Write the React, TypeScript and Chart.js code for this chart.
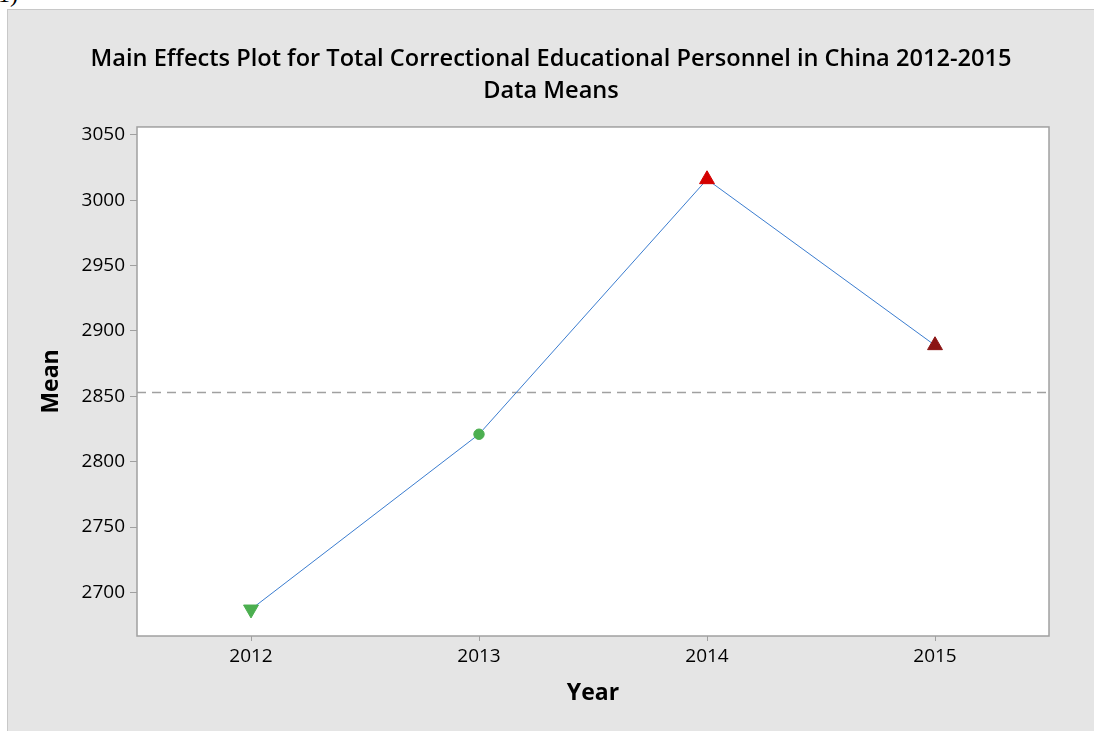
import React, { useEffect, useRef } from "react";
import { Chart, registerables } from "chart.js";

Chart.register(...registerables);

const years: string[] = ["2012", "2013", "2014", "2015"];
const means: number[] = [2687, 2821, 3016, 2889];
const pointStyles: string[] = ["triangle", "circle", "triangle", "triangle"];
const pointRotations: number[] = [180, 0, 0, 0];
const pointColors: string[] = ["#4caf50", "#4caf50", "#d40000", "#8b1414"];
const pointRadii: number[] = [8.6, 5.2, 8.6, 8.6];
const yTicks: number[] = [2700, 2750, 2800, 2850, 2900, 2950, 3000, 3050];
const titleLines: string[] = [
  "Main Effects Plot for Total Correctional Educational Personnel in China 2012-2015",
  "Data Means",
];

const FONT = "'Open Sans', 'Noto Sans', sans-serif";
const grandMean = means.reduce((a, b) => a + b, 0) / means.length;

const plotFrame = {
  id: "plotFrame",
  beforeDraw(chart: any) {
    const { ctx, chartArea } = chart;
    ctx.save();
    ctx.fillStyle = "#ffffff";
    ctx.fillRect(chartArea.left, chartArea.top, chartArea.right - chartArea.left, chartArea.bottom - chartArea.top);
    ctx.restore();
  },
  beforeDatasetsDraw(chart: any) {
    const { ctx, chartArea, scales } = chart;
    const y = Math.round(scales.y.getPixelForValue(grandMean)) + 0.5;
    ctx.save();
    ctx.strokeStyle = "#a0a0a0";
    ctx.lineWidth = 1.5;
    ctx.setLineDash([9, 6]);
    ctx.beginPath();
    ctx.moveTo(chartArea.left, y);
    ctx.lineTo(chartArea.right, y);
    ctx.stroke();
    ctx.restore();
  },
  afterDraw(chart: any) {
    const { ctx, chartArea } = chart;
    ctx.save();
    ctx.strokeStyle = "#a0a0a0";
    ctx.lineWidth = 1.5;
    ctx.strokeRect(chartArea.left, chartArea.top, chartArea.right - chartArea.left, chartArea.bottom - chartArea.top);
    ctx.restore();
  },
};

export default function App() {
  const canvasRef = useRef<HTMLCanvasElement | null>(null);

  useEffect(() => {
    if (!canvasRef.current) return;
    const chart = new Chart(canvasRef.current, {
      type: "line",
      data: {
        labels: years,
        datasets: [
          {
            data: means,
            borderColor: "#3b7dd0",
            borderWidth: 1,
            tension: 0,
            pointStyle: pointStyles as any,
            pointRotation: pointRotations as any,
            pointRadius: pointRadii,
            pointHoverRadius: pointRadii,
            pointBackgroundColor: pointColors,
            pointBorderColor: pointColors,
            pointBorderWidth: 1,
          } as any,
        ],
      },
      plugins: [plotFrame],
      options: {
        responsive: false,
        animation: false,
        events: [],
        layout: { padding: { left: 0, right: 0, top: 0, bottom: 0 }, autoPadding: false },
        plugins: {
          legend: { display: false },
          tooltip: { enabled: false },
          title: {
            display: true,
            text: titleLines,
            color: "#000000",
            font: { family: FONT, size: 23.6, weight: "600", lineHeight: 1.37 },
            padding: { top: 33, bottom: 19.3 },
          },
        },
        scales: {
          x: {
            type: "category",
            offset: true,
            grid: { display: true, drawOnChartArea: false, drawTicks: true, tickLength: 5, color: "#a0a0a0", offset: false },
            border: { display: false },
            ticks: { color: "#000000", font: { family: FONT, size: 19 }, padding: 4, maxRotation: 0 },
            title: {
              display: true,
              text: "Year",
              color: "#000000",
              font: { family: FONT, size: 23, weight: "bold", lineHeight: 1.2 },
              padding: { top: 0, bottom: 24 },
            },
            afterFit(scale: any) {
              scale.height = 95;
            },
          },
          y: {
            type: "linear",
            min: 2666.6,
            max: 3056.1,
            grid: { display: true, drawOnChartArea: false, drawTicks: true, tickLength: 7, color: "#a0a0a0" },
            border: { display: false },
            ticks: {
              color: "#000000",
              font: { family: FONT, size: 19 },
              padding: 5,
              callback: (v: any) => String(v),
            },
            afterBuildTicks(scale: any) {
              scale.ticks = yTicks.map((v) => ({ value: v }));
            },
            title: {
              display: true,
              text: "Mean",
              color: "#000000",
              font: { family: FONT, size: 23, weight: "bold", lineHeight: 1.2 },
              padding: { top: 29.5, bottom: 0 },
            },
            afterFit(scale: any) {
              scale.width = 129;
            },
          },
          yRightSpace: {
            type: "linear",
            position: "right",
            display: true,
            grid: { display: false, drawTicks: false },
            border: { display: false },
            ticks: { display: false },
            afterFit(scale: any) {
              scale.width = 45;
            },
          },
        },
      } as any,
    });
    return () => chart.destroy();
  }, []);

  return (
    <div style={{ position: "fixed", left: 0, top: 0, width: 1094, height: 731, background: "#ffffff", overflow: "hidden" }}>
      <div
        style={{
          position: "absolute",
          left: -2,
          top: -18,
          fontFamily: "'Liberation Serif', serif",
          fontSize: 24,
          lineHeight: "24px",
          color: "#000",
        }}
      >
        1)
      </div>
      <div
        style={{
          position: "absolute",
          left: 7,
          top: 9,
          width: 1087,
          height: 722,
          boxSizing: "border-box",
          background: "#e5e5e5",
          borderLeft: "1px solid #c8c8c8",
          borderTop: "1px solid #c8c8c8",
        }}
      >
        <canvas ref={canvasRef} width={1086} height={721} style={{ display: "block", width: 1086, height: 721 }} />
      </div>
    </div>
  );
}
